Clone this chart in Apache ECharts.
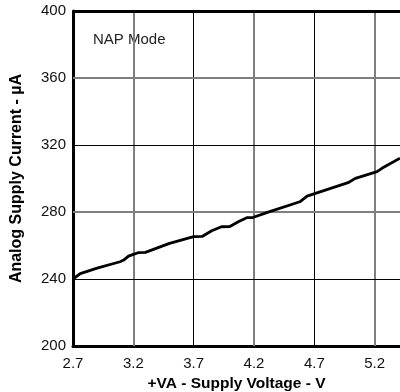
<!DOCTYPE html>
<html>
<head>
<meta charset="utf-8">
<script src="https://cdn.jsdelivr.net/npm/echarts@6/dist/echarts.min.js"></script>
<style>html,body{margin:0;padding:0;background:#fff;}#c{width:400px;height:392px;}</style>
</head>
<body>
<div id="c"></div>
<script>
// Data
const X_MIN = 2.7;
const X_MAX = 5.41;
const X_TICKS = [2.7, 3.2, 3.7, 4.2, 4.7, 5.2];
const Y_TICKS = [200, 240, 280, 320, 360, 400];
const voltage = [2.70, 2.76, 2.90, 3.09, 3.12, 3.16, 3.20, 3.24, 3.30, 3.50, 3.70, 3.77, 3.85, 3.93, 4.00, 4.07, 4.14, 4.19, 4.33, 4.58, 4.64, 4.98, 5.04, 5.22, 5.26, 5.41];
const current = [240.0, 243.2, 246.5, 250.3, 251.3, 253.7, 254.7, 255.7, 255.9, 261.3, 265.3, 265.4, 268.8, 271.2, 271.3, 274.2, 276.6, 276.7, 280.2, 286.1, 289.5, 297.5, 300.1, 304.1, 306.1, 312.1];
const annotation = 'NAP Mode';
const xTitle = '+VA - Supply Voltage - V';
const yTitle = 'Analog Supply Current - \u00B5A';

const FONT = '"Liberation Sans", Arial, sans-serif';
const GRAY = '#7f7f7f', BLACK = '#000';

const seriesData = voltage.map((v, i) => [v - X_MIN, current[i]]);

const gridLines = [];
X_TICKS.slice(1).forEach((t, i) => {
  const gray = i % 2 === 0;
  gridLines.push({ xAxis: +(t - X_MIN).toFixed(3), lineStyle: { color: gray ? GRAY : BLACK, width: gray ? 2 : 1, type: 'solid' } });
});
Y_TICKS.slice(1, -1).forEach((t, i) => {
  const gray = i % 2 === 1;
  gridLines.push({ yAxis: t, lineStyle: { color: gray ? GRAY : BLACK, width: gray ? 2 : 1, type: 'solid' } });
});
gridLines.push({ yAxis: Y_TICKS[Y_TICKS.length - 1], lineStyle: { color: BLACK, width: 3, type: 'solid' } });

const chart = echarts.init(document.getElementById('c'), null, { renderer: 'canvas' });
chart.setOption({
  animation: false,
  backgroundColor: '#fff',
  grid: { left: 73, right: 0, top: 11, bottom: 46, containLabel: false, outerBoundsMode: 'none' },
  xAxis: {
    type: 'value', min: 0, max: X_MAX - X_MIN, interval: 0.5,
    axisLine: { show: true, onZero: false, lineStyle: { color: BLACK, width: 3 } },
    axisTick: { show: false },
    splitLine: { show: false },
    axisLabel: { color: '#111', fontFamily: FONT, fontSize: 15, margin: 10, showMaxLabel: false,
      formatter: v => (v + X_MIN).toFixed(1) },
    name: xTitle, nameLocation: 'middle', nameGap: 30,
    nameTextStyle: { color: BLACK, fontFamily: FONT, fontSize: 15.5, fontWeight: 'bold' }
  },
  yAxis: {
    type: 'value', min: Y_TICKS[0], max: Y_TICKS[Y_TICKS.length - 1], interval: 40,
    axisLine: { show: true, lineStyle: { color: BLACK, width: 3 } },
    axisTick: { show: false },
    splitLine: { show: false },
    axisLabel: { color: '#111', fontFamily: FONT, fontSize: 15, margin: 7 },
    name: yTitle, nameLocation: 'middle', nameGap: 48, nameRotate: 90,
    nameTextStyle: { color: BLACK, fontFamily: FONT, fontSize: 16, fontWeight: 'bold' }
  },
  series: [
    {
      type: 'line', data: [[0, 200]], z: 1, silent: true, symbol: 'none',
      lineStyle: { opacity: 0 },
      markLine: { silent: true, symbol: 'none', label: { show: false }, animation: false, data: gridLines }
    },
    {
      type: 'line', data: seriesData, z: 5, symbol: 'none', smooth: false,
      lineStyle: { color: BLACK, width: 2.8 }
    }
  ],
  graphic: [{
    type: 'text', left: 93, top: 32,
    style: { text: annotation, fill: '#222', font: '15px ' + FONT }
  }]
});
</script>
</body>
</html>
